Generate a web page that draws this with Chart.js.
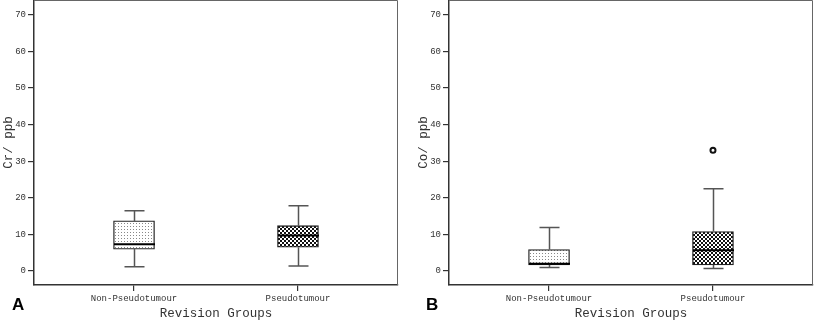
<!DOCTYPE html>
<html>
<head>
<meta charset="utf-8">
<script src="https://cdn.jsdelivr.net/npm/chart.js@4.4.0/dist/chart.umd.min.js"></script>
<style>
  body { margin: 0; background: #fff; width: 814px; height: 320px; overflow: hidden; position: relative; }
  canvas { position: absolute; top: 0; }
  .panel { position: absolute; top: 295px; font: bold 17px "Liberation Sans", Arial, sans-serif; color: #000; }
</style>
</head>
<body>
<canvas id="chartA" width="400" height="320" style="left:0"></canvas>
<canvas id="chartB" width="400" height="320" style="left:415px"></canvas>
<div class="panel" style="left:12px">A</div>
<div class="panel" style="left:426px">B</div>
<script>
// groups on the x axis (positions 1 and 2)
const groups = ['Non-Pseudotumour', 'Pseudotumour'];
const yTicks = [0, 10, 20, 30, 40, 50, 60, 70];

// Cr (panel A) box plot stats per group
const crMin = [1.2, 1.4];
const crQ1 = [6.0, 6.5];
const crMedian = [7.3, 9.7];
const crQ3 = [13.7, 12.4];
const crMax = [16.5, 17.8];
const crOutliers = [];

// Co (panel B)
const coMin = [1.0, 0.7];
const coQ1 = [1.7, 1.7];
const coMedian = [2.0, 5.7];
const coQ3 = [5.9, 10.8];
const coMax = [11.9, 22.5];
const coOutliers = [{ x: 2, y: 33.0 }];

function makePattern(kind) {
    let c = document.createElement('canvas');
    let g = c.getContext('2d');
    if (kind === 'dots') {
        c.width = 3; c.height = 3;
        g.fillStyle = '#fff'; g.fillRect(0, 0, 3, 3);
        g.fillStyle = '#888'; g.fillRect(1, 1, 1, 1);
    } else {
        c.width = 4; c.height = 4;
        g.fillStyle = '#fff'; g.fillRect(0, 0, 4, 4);
        g.fillStyle = '#111';
        g.fillRect(0, 0, 2, 2);
        g.fillRect(2, 2, 2, 2);
    }
    return g.createPattern(c, 'repeat');
}

// whiskers, caps, median and the plot frame
const boxExtras = {
    id: 'boxExtras',
    afterDatasetsDraw(chart, args, opts) {
        const ctx = chart.ctx;
        const x = chart.scales.x, y = chart.scales.y;
        const area = chart.chartArea;
        ctx.save();
        ctx.strokeStyle = '#666';
        ctx.lineWidth = 1;
        ctx.beginPath();
        ctx.moveTo(area.left, area.top + 0.5);
        ctx.lineTo(area.right - 0.5, area.top + 0.5);
        ctx.lineTo(area.right - 0.5, area.bottom);
        ctx.stroke();

        opts.stats.min.forEach((v, i) => {
            const px = Math.round(x.getPixelForValue(i + 1)) + 0.5;
            const half = 10;
            const bw = 20.5;
            ctx.strokeStyle = '#555';
            ctx.lineWidth = 1.5;
            ctx.beginPath();
            ctx.moveTo(px, y.getPixelForValue(opts.stats.q3[i]));
            ctx.lineTo(px, y.getPixelForValue(opts.stats.max[i]));
            ctx.moveTo(px, y.getPixelForValue(opts.stats.q1[i]));
            ctx.lineTo(px, y.getPixelForValue(v));
            ctx.moveTo(px - half, y.getPixelForValue(opts.stats.max[i]));
            ctx.lineTo(px + half, y.getPixelForValue(opts.stats.max[i]));
            ctx.moveTo(px - half, y.getPixelForValue(v));
            ctx.lineTo(px + half, y.getPixelForValue(v));
            ctx.stroke();
            ctx.strokeStyle = '#000';
            ctx.lineWidth = 2;
            ctx.beginPath();
            ctx.moveTo(px - bw, y.getPixelForValue(opts.stats.median[i]));
            ctx.lineTo(px + bw, y.getPixelForValue(opts.stats.median[i]));
            ctx.stroke();
        });
        ctx.restore();
    }
};

const mono = '"Liberation Mono", "Courier New", monospace';

function noPad(s) {
    s.paddingTop = 0; s.paddingBottom = 0; s.paddingLeft = 0; s.paddingRight = 0;
}

function buildChart(id, title, min, q1, median, q3, max, outliers) {
    const boxes = groups.map((g, i) => ({ x: i + 1, y: [q1[i], q3[i]] }));
    return new Chart(document.getElementById(id), {
        type: 'bar',
        data: {
            datasets: [{
                data: boxes,
                backgroundColor: [makePattern('dots'), makePattern('checks')],
                borderColor: '#222',
                borderWidth: 1.3,
                borderSkipped: false,
                barThickness: 41
            }, {
                type: 'scatter',
                data: outliers,
                pointRadius: 2.5,
                pointBorderWidth: 2,
                pointBackgroundColor: '#fff',
                pointBorderColor: '#111'
            }]
        },
        options: {
            responsive: false,
            animation: false,
            layout: { autoPadding: false, padding: { top: 0, right: 2, left: 0, bottom: 0 } },
            plugins: {
                legend: { display: false },
                tooltip: { enabled: false },
                boxExtras: { stats: { min, q1, median, q3, max } }
            },
            scales: {
                x: {
                    type: 'linear',
                    offset: false,
                    min: 0.39,
                    max: 2.61,
                    afterBuildTicks: s => { s.ticks = groups.map((g, i) => ({ value: i + 1 })); },
                    afterFit: s => { s.height = 35; noPad(s); },
                    grid: { offset: false, drawOnChartArea: false, tickLength: 6, color: '#333', lineWidth: 1.2 },
                    border: { color: '#333', width: 1.5 },
                    ticks: {
                        padding: 2,
                        maxRotation: 0,
                        autoSkip: false,
                        color: '#333',
                        font: { family: mono, size: 9 },
                        callback: v => groups[v - 1]
                    },
                    title: {
                        display: true,
                        text: 'Revision Groups',
                        color: '#333',
                        padding: 0,
                        font: { family: mono, size: 12.5, lineHeight: 1 }
                    }
                },
                y: {
                    min: -3.8,
                    max: 74,
                    afterBuildTicks: s => { s.ticks = yTicks.map(v => ({ value: v })); },
                    afterFit: s => { s.width = 34; noPad(s); },
                    grid: { drawOnChartArea: false, tickLength: 6, color: '#333', lineWidth: 1.2 },
                    border: { color: '#333', width: 1.5 },
                    ticks: {
                        padding: 2,
                        color: '#333',
                        font: { family: mono, size: 9 }
                    },
                    title: {
                        display: true,
                        text: title,
                        color: '#333',
                        padding: { top: 1, bottom: 0 },
                        font: { family: mono, size: 12.5 }
                    }
                }
            }
        },
        plugins: [boxExtras]
    });
}

buildChart('chartA', 'Cr/ ppb', crMin, crQ1, crMedian, crQ3, crMax, crOutliers);
buildChart('chartB', 'Co/ ppb', coMin, coQ1, coMedian, coQ3, coMax, coOutliers);
</script>
</body>
</html>
